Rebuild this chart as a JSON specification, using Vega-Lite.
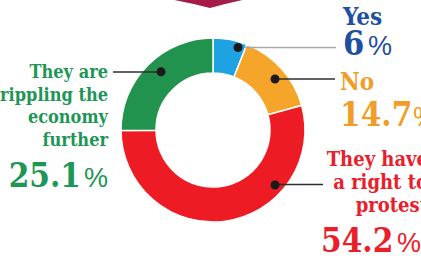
{
  "$schema": "https://vega.github.io/schema/vega-lite/v6.json",
  "width": 416,
  "height": 254,
  "autosize": {"type": "none"},
  "padding": {"left": 5, "top": 3, "right": 0, "bottom": 10},
  "background": "white",
  "config": {"view": {"stroke": null}},
  "resolve": {"scale": {"shape": "independent"}},
  "data": {
    "values": [
      {"rank": 1, "answer": "Yes", "value": 6.0, "label": "Yes"},
      {"rank": 2, "answer": "No", "value": 14.7, "label": "No"},
      {"rank": 3, "answer": "They have a right to protest", "value": 54.2, "label": "They have\na right to\nprotest"},
      {"rank": 4, "answer": "They are crippling the economy further", "value": 25.1, "label": "They are\ncrippling the\neconomy\nfurther"}
    ]
  },
  "layer": [
    {
      "data": {"values": [{"item": "header"}]},
      "mark": {"type": "point", "filled": true, "opacity": 1, "size": 4, "color": "#a51c4a", "strokeWidth": 0,
               "shape": "M-44,-131Q-22,-127 -3,-122Q15,-127 34,-131Z"},
      "encoding": {}
    },
    {
      "mark": {"type": "arc", "outerRadius": 92, "innerRadius": 57, "stroke": "white", "strokeWidth": 1.5},
      "encoding": {
        "theta": {"field": "value", "type": "quantitative", "stack": true},
        "order": {"field": "rank", "type": "quantitative"},
        "color": {"field": "answer", "type": "nominal", "legend": null,
          "scale": {"domain": ["Yes", "No", "They have a right to protest", "They are crippling the economy further"],
                    "range": ["#1ea2e2", "#f5a62a", "#ed1c24", "#22934f"]}}
      }
    },
    {
      "mark": {"type": "point", "filled": true, "opacity": 1, "size": 4, "strokeWidth": 0},
      "encoding": {
        "shape": {"field": "answer", "type": "nominal", "legend": null,
          "scale": {"domain": ["Yes", "No", "They have a right to protest", "They are crippling the economy further"],
                    "range": ["M32,-83.3H123V-81.7H32Z", "M62,-51.8H122V-50.2H62Z", "M62,53.7H110V55.3H62Z", "M-100,-58.8H-52V-57.2H-100Z"]}},
        "fill": {"condition": {"test": "datum.rank === 1", "value": "#a8a8a8"}, "value": "#2e2e2e"}
      }
    },
    {
      "mark": {"type": "point", "filled": true, "opacity": 1, "size": 4, "strokeWidth": 0, "color": "#1a1a1a"},
      "encoding": {
        "shape": {"field": "rank", "type": "nominal", "legend": null,
          "scale": {"domain": [1, 2, 3, 4],
                    "range": ["M20.5,-82.5a4.5,4.5 0 1,0 9,0a4.5,4.5 0 1,0 -9,0Z", "M57.5,-51a4.5,4.5 0 1,0 9,0a4.5,4.5 0 1,0 -9,0Z", "M57.5,55a4.5,4.5 0 1,0 9,0a4.5,4.5 0 1,0 -9,0Z", "M-56.5,-58.3a4.5,4.5 0 1,0 9,0a4.5,4.5 0 1,0 -9,0Z"]}}
      }
    },
    {
      "mark": {"type": "text", "radius": 130, "dx": 105.6, "dy": 22.7, "align": "left", "baseline": "alphabetic", "font": "DejaVu Serif Condensed", "fontWeight": "bold", "fontSize": 24, "color": "#1f4fa0"},
      "encoding": {
        "theta": {"field": "value", "type": "quantitative", "stack": true},
        "order": {"field": "rank", "type": "quantitative"},
        "text": {"condition": {"test": "datum.rank === 1", "field": "label"}, "value": ""}
      }
    },
    {
      "mark": {"type": "text", "radius": 130, "dx": 105.6, "dy": 52.7, "align": "left", "baseline": "alphabetic", "font": "DejaVu Serif Condensed", "fontWeight": "bold", "fontSize": 34, "color": "#1f4fa0"},
      "encoding": {
        "theta": {"field": "value", "type": "quantitative", "stack": true},
        "order": {"field": "rank", "type": "quantitative"},
        "text": {"condition": {"test": "datum.rank === 1", "field": "value", "type": "quantitative", "format": ".1~f"}, "value": ""}
      }
    },
    {
      "mark": {"type": "text", "radius": 130, "dx": 130.6, "dy": 52.7, "align": "left", "baseline": "alphabetic", "font": "Liberation Sans", "fontSize": 27, "color": "#1f4fa0"},
      "encoding": {
        "theta": {"field": "value", "type": "quantitative", "stack": true},
        "order": {"field": "rank", "type": "quantitative"},
        "text": {"condition": {"test": "datum.rank === 1", "value": "%"}, "value": ""}
      }
    },
    {
      "mark": {"type": "text", "radius": 130, "dx": 30.3, "dy": 46.9, "align": "left", "baseline": "alphabetic", "font": "DejaVu Serif Condensed", "fontWeight": "bold", "fontSize": 24, "color": "#f29d28"},
      "encoding": {
        "theta": {"field": "value", "type": "quantitative", "stack": true},
        "order": {"field": "rank", "type": "quantitative"},
        "text": {"condition": {"test": "datum.rank === 2", "field": "label"}, "value": ""}
      }
    },
    {
      "mark": {"type": "text", "radius": 130, "dx": 30.3, "dy": 82.9, "align": "left", "baseline": "alphabetic", "font": "DejaVu Serif Condensed", "fontWeight": "bold", "fontSize": 33, "color": "#f29d28"},
      "encoding": {
        "theta": {"field": "value", "type": "quantitative", "stack": true},
        "order": {"field": "rank", "type": "quantitative"},
        "text": {"condition": {"test": "datum.rank === 2", "field": "value", "type": "quantitative", "format": ".1~f"}, "value": ""}
      }
    },
    {
      "mark": {"type": "text", "radius": 130, "dx": 103.3, "dy": 82.9, "align": "left", "baseline": "alphabetic", "font": "Liberation Sans", "fontSize": 27, "color": "#f29d28"},
      "encoding": {
        "theta": {"field": "value", "type": "quantitative", "stack": true},
        "order": {"field": "rank", "type": "quantitative"},
        "text": {"condition": {"test": "datum.rank === 2", "value": "%"}, "value": ""}
      }
    },
    {
      "mark": {"type": "text", "radius": 130, "dx": 197.1, "dy": -92.8, "align": "right", "baseline": "alphabetic", "lineBreak": "\n", "lineHeight": 23, "font": "DejaVu Serif Condensed", "fontWeight": "bold", "fontSize": 20, "color": "#e9202a"},
      "encoding": {
        "theta": {"field": "value", "type": "quantitative", "stack": true},
        "order": {"field": "rank", "type": "quantitative"},
        "text": {"condition": {"test": "datum.rank === 3", "field": "label"}, "value": ""}
      }
    },
    {
      "mark": {"type": "text", "radius": 130, "dx": 90.1, "dy": -6.8, "align": "left", "baseline": "alphabetic", "font": "DejaVu Serif Condensed", "fontWeight": "bold", "fontSize": 33, "color": "#e9202a"},
      "encoding": {
        "theta": {"field": "value", "type": "quantitative", "stack": true},
        "order": {"field": "rank", "type": "quantitative"},
        "text": {"condition": {"test": "datum.rank === 3", "field": "value", "type": "quantitative", "format": ".1~f"}, "value": ""}
      }
    },
    {
      "mark": {"type": "text", "radius": 130, "dx": 166.1, "dy": -6.8, "align": "left", "baseline": "alphabetic", "font": "Liberation Sans", "fontSize": 27, "color": "#e9202a"},
      "encoding": {
        "theta": {"field": "value", "type": "quantitative", "stack": true},
        "order": {"field": "rank", "type": "quantitative"},
        "text": {"condition": {"test": "datum.rank === 3", "value": "%"}, "value": ""}
      }
    },
    {
      "mark": {"type": "text", "radius": 130, "dx": -12.8, "dy": 39.7, "align": "right", "baseline": "alphabetic", "lineBreak": "\n", "lineHeight": 22.5, "font": "DejaVu Serif Condensed", "fontWeight": "bold", "fontSize": 18, "color": "#1e9656"},
      "encoding": {
        "theta": {"field": "value", "type": "quantitative", "stack": true},
        "order": {"field": "rank", "type": "quantitative"},
        "text": {"condition": {"test": "datum.rank === 4", "field": "label"}, "value": ""}
      }
    },
    {
      "mark": {"type": "text", "radius": 130, "dx": -39.8, "dy": 148.7, "align": "right", "baseline": "alphabetic", "font": "DejaVu Serif Condensed", "fontWeight": "bold", "fontSize": 33, "color": "#1e9656"},
      "encoding": {
        "theta": {"field": "value", "type": "quantitative", "stack": true},
        "order": {"field": "rank", "type": "quantitative"},
        "text": {"condition": {"test": "datum.rank === 4", "field": "value", "type": "quantitative", "format": ".1~f"}, "value": ""}
      }
    },
    {
      "mark": {"type": "text", "radius": 130, "dx": -12.8, "dy": 148.7, "align": "right", "baseline": "alphabetic", "font": "Liberation Sans", "fontSize": 27, "color": "#1e9656"},
      "encoding": {
        "theta": {"field": "value", "type": "quantitative", "stack": true},
        "order": {"field": "rank", "type": "quantitative"},
        "text": {"condition": {"test": "datum.rank === 4", "value": "%"}, "value": ""}
      }
    }
  ]
}
